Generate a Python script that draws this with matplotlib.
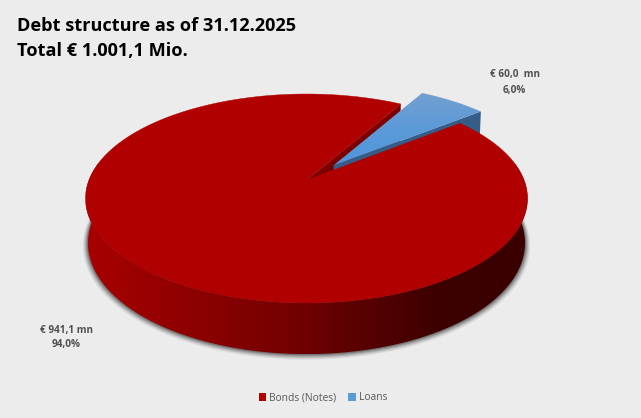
#!/usr/bin/python3

# plot.py : debt structure as a tilted, exploded pie, drawn by hand because
# matplotlib has no 3d pie. Slice angles come from the amounts below.

import matplotlib
matplotlib.use("Agg")
import matplotlib.pyplot as plt
import numpy as np
from matplotlib.colors import LinearSegmentedColormap
from matplotlib.patches import Patch, Polygon

CATEGORIES = ["Bonds (Notes)", "Loans"]
AMOUNTS = [941.1, 60.0]
AMOUNT_LABELS = ["€ 941,1 mn", "€ 60,0  mn"]
SHARE_LABELS = ["94,0%", "6,0%"]
TITLE_LINES = ["Debt structure as of 31.12.2025", "Total € 1.001,1 Mio."]

BG = "#ececec"
RED = "#b00000"
RED_CUT = "#7c0000"
BLUE_LEGEND = "#5b9bd5"
BLUE_CUT = "#365d87"
WALL_RAMP = [(0.0, "#a80000"), (0.45, "#760000"), (0.8, "#3c0000"), (1.0, "#3a0000")]
BLUE_RAMP = ["#74a0cf", "#5b9ad8", "#4f96dc"]

# projection of the pie plane to pixels
APEX_X, APEX_Y = 306.5, 180.0
SCALE_X, SCALE_Y = 217.5, 101.2
PERSP = 0.177
DEPTH = 44.0
DEPTH_PERSP = 0.011
START_BEARING = 30.0  # where the loans slice starts, clockwise from north
EXPLODE = 0.195


def project(u, v, bottom=False):
    w = 1 + PERSP * v
    if bottom:
        w = w + DEPTH_PERSP
        return APEX_X + SCALE_X * u / w, APEX_Y + (DEPTH - SCALE_Y * v) / w
    return APEX_X + SCALE_X * u / w, APEX_Y - SCALE_Y * v / w


def rim(start, end, offset=(0, 0), bottom=False, n=200, radius=1.0):
    a = np.radians(np.linspace(start, end, n))
    return project(radius * np.sin(a) + offset[0],
                   radius * np.cos(a) + offset[1], bottom)


def gradient_fill(ax, xs, ys, colors, horizontal, zorder):
    pts = np.column_stack([xs, ys])
    cmap = LinearSegmentedColormap.from_list("g", colors)
    x0, x1, y0, y1 = xs.min(), xs.max(), ys.min(), ys.max()
    ramp = np.linspace(0, 1, 256)
    ramp = ramp.reshape(1, -1) if horizontal else ramp.reshape(-1, 1)
    im = ax.imshow(ramp, cmap=cmap, extent=(x0, x1, y1, y0), aspect="auto",
                   origin="upper", zorder=zorder, interpolation="bilinear")
    clip = Polygon(pts, closed=True, transform=ax.transData)
    im.set_clip_path(clip)


fig = plt.figure(figsize=(6.41, 4.18), dpi=100, facecolor=BG)
ax = fig.add_axes([0, 0, 1, 1])
ax.set_facecolor(BG)
ax.axis("off")

loan_sweep = 360.0 * AMOUNTS[1] / sum(AMOUNTS)
loan_end = START_BEARING + loan_sweep
mid = np.radians(START_BEARING + loan_sweep / 2)
offset = (EXPLODE * np.sin(mid), EXPLODE * np.cos(mid))

# soft shadow around the red wall
for grow, alpha in [(5, 0.07), (4, 0.10), (3, 0.14), (2, 0.2), (1, 0.28)]:
    sx, sy = rim(82, 278, bottom=True, radius=1 + grow / 218)
    ax.add_patch(Polygon(np.column_stack([sx, sy + 0.4 * grow]), closed=True,
                         facecolor="#202020", edgecolor="none", alpha=alpha,
                         zorder=1))

# red outer wall
tx, ty = rim(80, 280)
bx, by = rim(80, 280, bottom=True)
gradient_fill(ax, np.r_[tx, bx[::-1]], np.r_[ty, by[::-1]], WALL_RAMP, True, 2)

# red cut face seen through the gap
rx, ry = rim(START_BEARING, START_BEARING, n=1)
rbx, rby = rim(START_BEARING, START_BEARING, bottom=True, n=1)
apex_x, apex_y = project(0.0, 0.0)
apex_bx, apex_by = project(0.0, 0.0, bottom=True)
ax.add_patch(Polygon([(apex_x, apex_y), (rx[0], ry[0]), (rbx[0], rby[0]),
                      (apex_bx, apex_by)], closed=True, facecolor=RED_CUT,
                     edgecolor="none", zorder=3))

# blue cut face
lx, ly = rim(loan_end, loan_end, offset, n=1)
lbx, lby = rim(loan_end, loan_end, offset, bottom=True, n=1)
ox, oy = project(offset[0], offset[1])
obx, oby = project(offset[0], offset[1], bottom=True)
ax.add_patch(Polygon([(ox, oy), (lx[0], ly[0]), (lbx[0], lby[0]), (obx, oby)],
                     closed=True, facecolor=BLUE_CUT, edgecolor="none",
                     zorder=4))

# blue top
blx, bly = rim(START_BEARING, loan_end, offset)
gradient_fill(ax, np.r_[ox, blx], np.r_[oy, bly], BLUE_RAMP, False, 5)

# red top
redx, redy = rim(loan_end, START_BEARING + 360, n=600)
ax.add_patch(Polygon(np.column_stack([np.r_[apex_x, redx], np.r_[apex_y, redy]]),
                     closed=True, facecolor=RED, edgecolor=RED, linewidth=0.3,
                     zorder=6))

ax.set_xlim(0, 641)
ax.set_ylim(418, 0)

plt.rcParams["font.family"] = ["Open Sans", "DejaVu Sans"]

ax.text(17, 26, TITLE_LINES[0], fontsize=13.05, fontweight="bold", color="black",
        va="center", ha="left", zorder=10)
ax.text(17, 51, TITLE_LINES[1], fontsize=13.1, fontweight="bold", color="black",
        va="center", ha="left", zorder=10)

label_style = dict(fontsize=7.2, fontweight="bold", color="#505050",
                   ha="center", va="center", zorder=10)
ax.text(67, 330, AMOUNT_LABELS[0], **label_style)
ax.text(66, 345, SHARE_LABELS[0], **label_style)
ax.text(515, 75, AMOUNT_LABELS[1], **label_style)
ax.text(514, 90, SHARE_LABELS[1], **label_style)

handles = [Patch(facecolor=RED, label=CATEGORIES[0]),
           Patch(facecolor=BLUE_LEGEND, label=CATEGORIES[1])]
ax.legend(handles=handles, loc="center", bbox_to_anchor=(323 / 641, 1 - 398 / 418),
          ncols=2, frameon=False, fontsize=7.35, handlelength=0.72,
          handleheight=0.72, handletextpad=0.3, columnspacing=1.2,
          labelcolor="#595959", borderpad=0)

fig.savefig("out.png", dpi=100, facecolor=BG)
